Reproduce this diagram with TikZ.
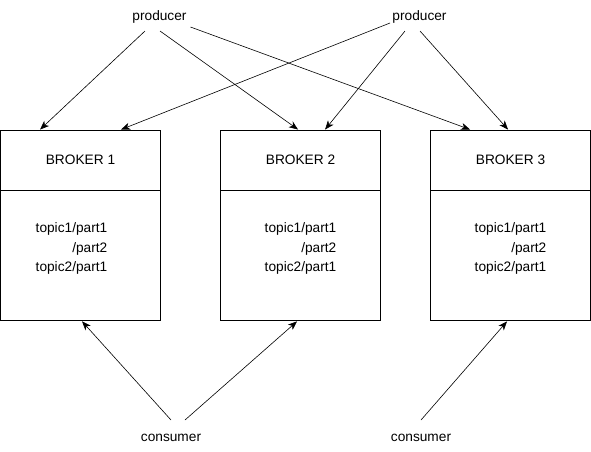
\documentclass[tikz,border=0pt]{standalone}
\usepackage{fontspec}
\setmainfont{Liberation Sans}
\usetikzlibrary{positioning,arrows.meta}
\begin{document}
\begin{tikzpicture}[x=1pt, y=-1pt,
        every node/.style={font=\fontsize{13.7}{19.8}\selectfont},
        brokerhead/.style={draw, line width=0.9pt, minimum width=160pt, minimum height=60pt, inner sep=0pt},
        brokerbody/.style={draw, line width=0.9pt, minimum width=160pt, minimum height=130pt, inner sep=0pt},
        parts/.style={align=right, inner sep=0pt},
        arr/.style={-{Stealth[length=9pt, width=7pt, inset=2.5pt]}, line width=0.6pt}]
        \useasboundingbox (0, 0) rectangle (591, 451);
        % brokers
        \node[brokerhead] (b1) at (80.5, 160) {BROKER 1};
        \node[brokerbody, below=0pt of b1] (s1) {};
        \node[parts] (t1) at ([xshift=-9pt, yshift=-58pt]b1.south) {topic1/part1\\/part2\\topic2/part1};
        \node[brokerhead] (b2) at (300.5, 160) {BROKER 2};
        \node[brokerbody, below=0pt of b2] (s2) {};
        \node[parts] (t2) at ([yshift=-58pt]b2.south) {topic1/part1\\/part2\\topic2/part1};
        \node[brokerhead] (b3) at (510.5, 160) {BROKER 3};
        \node[brokerbody, below=0pt of b3] (s3) {};
        \node[parts] (t3) at ([yshift=-58pt]b3.south) {topic1/part1\\/part2\\topic2/part1};
        % clients
        \node (p1) at (159.5, 17) {producer};
        \node (p2) at (419.5, 17) {producer};
        \node (c1) at (171, 438) {consumer};
        \node (c2) at (421, 438) {consumer};
        % producer arrows
        \draw[arr] ([shift={(-14.5, 14)}]p1.center) -- ([xshift=40pt]b1.north west);
        \draw[arr] ([shift={(0.5, 14)}]p1.center) -- ([xshift=78pt]b2.north west);
        \draw[arr] ([shift={(31, 10)}]p1.center) -- ([xshift=40pt]b3.north west);
        \draw[arr] ([shift={(-29.5, 6)}]p2.center) -- ([xshift=121pt]b1.north west);
        \draw[arr] ([shift={(-14.5, 14)}]p2.center) -- ([xshift=105pt]b2.north west);
        \draw[arr] ([shift={(0.5, 14)}]p2.center) -- ([xshift=78pt]b3.north west);
        % consumer arrows
        \draw[arr] ([shift={(0, -18)}]c1.center) -- ([xshift=82pt]s1.south west);
        \draw[arr] ([shift={(14, -18)}]c1.center) -- ([xshift=77pt]s2.south west);
        \draw[arr] ([shift={(0, -18)}]c2.center) -- ([xshift=77pt]s3.south west);
\end{tikzpicture}
\end{document}
